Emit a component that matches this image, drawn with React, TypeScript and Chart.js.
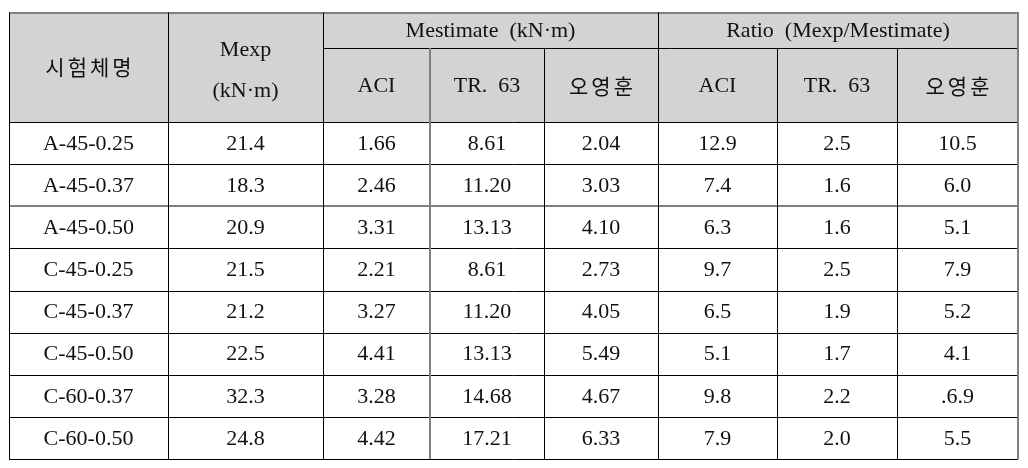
import React, { useEffect, useRef } from "react";
import { Chart, registerables } from "chart.js";
Chart.register(...registerables);

// ---- data ----
const specimens = ["A-45-0.25", "A-45-0.37", "A-45-0.50", "C-45-0.25", "C-45-0.37", "C-45-0.50", "C-60-0.37", "C-60-0.50"];
const mexp = ["21.4", "18.3", "20.9", "21.5", "21.2", "22.5", "32.3", "24.8"];
const estACI = ["1.66", "2.46", "3.31", "2.21", "3.27", "4.41", "3.28", "4.42"];
const estTR63 = ["8.61", "11.20", "13.13", "8.61", "11.20", "13.13", "14.68", "17.21"];
const estOh = ["2.04", "3.03", "4.10", "2.73", "4.05", "5.49", "4.67", "6.33"];
const ratioACI = ["12.9", "7.4", "6.3", "9.7", "6.5", "5.1", "9.8", "7.9"];
const ratioTR63 = ["2.5", "1.6", "1.6", "2.5", "1.9", "1.7", "2.2", "2.0"];
const ratioOh = ["10.5", "6.0", "5.1", "7.9", "5.2", "4.1", ".6.9", "5.5"];

const headSpecimen = "시험체명";
const headMexp = ["Mexp", "(kN·m)"];
const groupHeaders = ["Mestimate  (kN·m)", "Ratio  (Mexp/Mestimate)"];
const subHeaders = ["ACI", "TR.  63", "오영훈", "ACI", "TR.  63", "오영훈"];

const columns = [specimens, mexp, estACI, estTR63, estOh, ratioACI, ratioTR63, ratioOh];

// ---- layout (scale units) ----
const W = 1012;
const H = 452;
const colEdges = [1, 160, 315, 422, 536, 650, 769, 889, 1010];
const yTop = 4.5;
const yHead1 = 40;
const yHead = 114;
const yBottom = 451;
const rowH = (yBottom - yHead) / specimens.length;

const LATIN = "22px 'Liberation Serif', serif";
const KOREAN = "21px 'Noto Sans CJK KR', sans-serif";
const KOREAN_GAP = 3;

const points: { x: number; y: number; c: number; r: number }[] = [];
columns.forEach((col, c) =>
  col.forEach((_, r) =>
    points.push({ x: (colEdges[c] + colEdges[c + 1]) / 2, y: yHead + rowH * (r + 0.5), c, r })
  )
);

const tablePlugin = {
  id: "tablePlugin",
  afterDraw(chart: any) {
    const ctx: CanvasRenderingContext2D = chart.ctx;
    const xs = chart.scales.x;
    const ys = chart.scales.y;
    const px = (v: number) => xs.getPixelForValue(v);
    const py = (v: number) => ys.getPixelForValue(v);
    ctx.save();
    // header background
    ctx.fillStyle = "#d3d3d3";
    ctx.fillRect(px(colEdges[0]), py(yTop), px(colEdges[8]) - px(colEdges[0]), py(yHead) - py(yTop));

    const hline = (y: number, x0: number, x1: number, color: string, w: number) => {
      ctx.strokeStyle = color;
      ctx.lineWidth = w;
      const yy = Math.round(py(y)) + (w % 2 ? 0.5 : 0);
      ctx.beginPath();
      ctx.moveTo(px(x0), yy);
      ctx.lineTo(px(x1), yy);
      ctx.stroke();
    };
    const vline = (x: number, y0: number, y1: number, color: string, w: number) => {
      ctx.strokeStyle = color;
      ctx.lineWidth = w;
      const xx = Math.round(px(x)) + (w % 2 ? 0.5 : 0);
      ctx.beginPath();
      ctx.moveTo(xx, py(y0));
      ctx.lineTo(xx, py(y1));
      ctx.stroke();
    };
    const L = colEdges[0];
    const R = colEdges[8];
    const dark = "#000000";
    const grey = "#808080";
    hline(yTop, L, R + 1, grey, 2);
    hline(yHead1, colEdges[2], colEdges[8], dark, 1);
    hline(yHead, L, R, dark, 1);
    for (let r = 1; r <= specimens.length; r++) {
      const y = yHead + rowH * r;
      if (r === 2) hline(y, L, R, grey, 2);
      else hline(y, L, R, dark, 1);
    }
    vline(L, yTop, yBottom, dark, 1);
    vline(colEdges[1], yTop, yBottom, dark, 1);
    vline(colEdges[2], yTop, yBottom, dark, 1);
    vline(colEdges[3], yHead1, yBottom, grey, 2);
    vline(colEdges[4], yHead1, yBottom, dark, 1);
    vline(colEdges[5], yTop, yBottom, dark, 1);
    vline(colEdges[6], yHead1, yBottom, dark, 1);
    vline(colEdges[7], yHead1, yBottom, dark, 1);
    vline(R, yTop, yBottom + 0.5, grey, 2);

    ctx.fillStyle = "#111";
    ctx.textBaseline = "middle";
    const draw = (s: string, x: number, y: number) => {
      const korean = /[\uac00-\ud7a3]/.test(s);
      if (korean) {
        ctx.font = KOREAN;
        ctx.textAlign = "left";
        const chars = Array.from(s);
        const widths = chars.map((ch) => ctx.measureText(ch).width);
        const total = widths.reduce((a, b) => a + b, 0) + KOREAN_GAP * (chars.length - 1);
        let cx = x - total / 2;
        chars.forEach((ch, i) => {
          ctx.fillText(ch, cx, y);
          cx += widths[i] + KOREAN_GAP;
        });
      } else {
        ctx.font = LATIN;
        ctx.textAlign = "center";
        ctx.fillText(s, x, y);
      }
    };
    const text = (s: string, x: number, y: number) => draw(s, px(x), py(y));
    // header texts
    text(headSpecimen, (colEdges[0] + colEdges[1]) / 2, 59);
    text(headMexp[0], (colEdges[1] + colEdges[2]) / 2, 42);
    text(headMexp[1], (colEdges[1] + colEdges[2]) / 2, 83);
    text(groupHeaders[0], (colEdges[2] + colEdges[5]) / 2, 23);
    text(groupHeaders[1], (colEdges[5] + colEdges[8]) / 2, 23);
    subHeaders.forEach((s, i) => text(s, (colEdges[i + 2] + colEdges[i + 3]) / 2, 78));

    // data cells, positioned from the dataset through the scales
    const meta = chart.getDatasetMeta(0);
    const ds = chart.data.datasets[0].data as any[];
    meta.data.forEach((el: any, i: number) => {
      const p = ds[i];
      draw(columns[p.c][p.r], el.x, el.y + 1);
    });
    ctx.restore();
  },
};

export default function App() {
  const ref = useRef<HTMLCanvasElement | null>(null);
  useEffect(() => {
    if (!ref.current) return;
    const chart = new Chart(ref.current, {
      type: "scatter",
      data: {
        datasets: [
          {
            data: points as any,
            pointRadius: 0,
            pointHoverRadius: 0,
            showLine: false,
          },
        ],
      },
      options: {
        animation: false,
        responsive: true,
        maintainAspectRatio: false,
        layout: { padding: 0 },
        events: [],
        plugins: { legend: { display: false }, tooltip: { enabled: false } },
        scales: {
          x: { type: "linear", min: 0, max: W, display: false },
          y: { type: "linear", min: 0, max: H, reverse: true, display: false },
        },
      },
      plugins: [tablePlugin],
    });
    return () => chart.destroy();
  }, []);
  return (
    <div style={{ width: W, height: H, position: "relative" }}>
      <canvas ref={ref} />
    </div>
  );
}
